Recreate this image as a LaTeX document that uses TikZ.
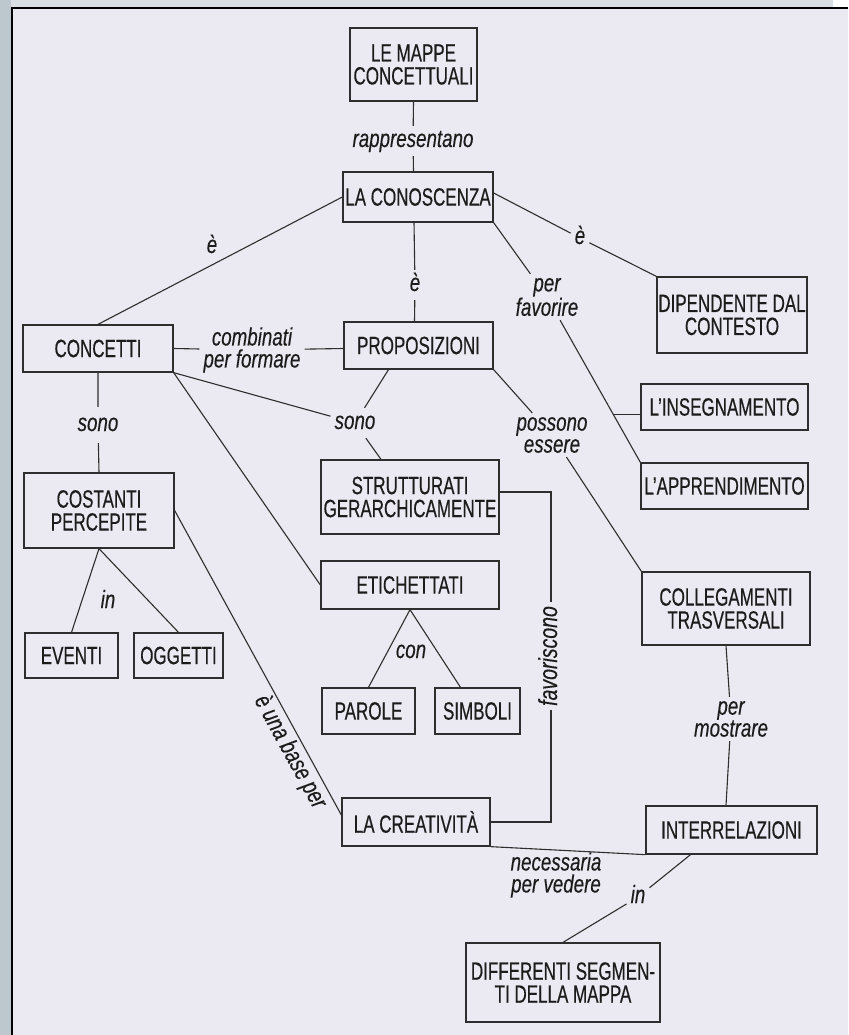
\documentclass[tikz,border=0pt]{standalone}
\usepackage{fontspec}
\newfontfamily\boxfont{Liberation Sans}[FakeStretch=0.68, FakeBold=0.4]
\newfontfamily\labfont{Liberation Sans}[FakeStretch=0.75, FakeBold=0.3]
\definecolor{ink}{HTML}{2E2E2E}
\definecolor{txt}{HTML}{1C1C1C}
\definecolor{page}{HTML}{EBEAF2}
\definecolor{bar}{HTML}{BCC7CE}
\definecolor{strip}{HTML}{D8DEE3}
\begin{document}
\begin{tikzpicture}[x=1pt,y=-1pt,
  box/.style={draw=ink, line width=1.3pt, inner sep=0pt, align=center, text=txt,
    font=\boxfont\fontsize{25}{23}\selectfont},
  lab/.style={inner sep=4pt, text=txt, text height=17pt, text depth=5pt,
    font=\labfont\itshape\fontsize{25}{22}\selectfont},
  labtwo/.style={inner sep=4pt, align=center, text=txt,
    font=\labfont\itshape\fontsize{25}{22}\selectfont},
  link/.style={draw=ink, line width=1.1pt}]
\useasboundingbox (0,0) rectangle (848,1035);

% page, margin bar and edges
\fill[page] (0,0) rectangle (848,1035);
\fill[bar] (0,0) rectangle (11,1035);
\fill[strip] (11,0) rectangle (833,7);
\fill[white] (833,0) rectangle (848,7);
\draw[black, line width=2pt] (12,1035) -- (12,8) -- (848,8);

% concept boxes
\node[box, minimum width=127pt, minimum height=73pt] (mappe) at (413.5,64.5) {LE MAPPE\\CONCETTUALI};
\node[box, minimum width=150pt, minimum height=50pt] (conosc) at (418,197) {LA CONOSCENZA};
\node[box, minimum width=150pt, minimum height=76pt] (dipend) at (732,315) {DIPENDENTE DAL\\CONTESTO};
\node[box, minimum width=150pt, minimum height=47pt] (concetti) at (98,348.5) {CONCETTI};
\node[box, minimum width=149pt, minimum height=47pt] (propos) at (418.5,345.5) {PROPOSIZIONI};
\node[box, minimum width=167pt, minimum height=46pt] (insegn) at (724.5,407) {L’INSEGNAMENTO};
\node[box, minimum width=167pt, minimum height=46pt] (apprend) at (724.5,486) {L’APPRENDIMENTO};
\node[box, minimum width=150pt, minimum height=75pt] (costanti) at (99,510.5) {COSTANTI\\PERCEPITE};
\node[box, minimum width=178pt, minimum height=74pt] (strutt) at (410,497) {STRUTTURATI\\GERARCHICAMENTE};
\node[box, minimum width=178pt, minimum height=48pt] (etich) at (410,585) {ETICHETTATI};
\node[box, minimum width=168pt, minimum height=73pt] (colleg) at (726,608.5) {COLLEGAMENTI\\TRASVERSALI};
\node[box, minimum width=93pt, minimum height=45pt] (eventi) at (71.5,655.5) {EVENTI};
\node[box, minimum width=89pt, minimum height=45pt] (oggetti) at (178.5,655.5) {OGGETTI};
\node[box, minimum width=93pt, minimum height=46pt] (parole) at (368.5,711) {PAROLE};
\node[box, minimum width=85pt, minimum height=46pt] (simboli) at (477.5,711) {SIMBOLI};
\node[box, minimum width=148pt, minimum height=48pt] (creat) at (416,822) {LA CREATIVITÀ};
\node[box, minimum width=171pt, minimum height=48pt] (interr) at (731.5,830) {INTERRELAZIONI};
\node[box, minimum width=194pt, minimum height=79pt] (differ) at (563,982.5) {DIFFERENTI SEGMEN-\\TI DELLA MAPPA};

% link phrases
\node[lab] (rappr) at (413,141) {rappresentano};
\node[lab] (e1) at (212,247) {è};
\node[lab] (e2) at (415,285) {è};
\node[lab] (e3) at (580,238) {è};
\node[labtwo] (perfav) at (547,297) {per\\favorire};
\node[labtwo] (combin) at (252,350) {combinati\\per formare};
\node[lab, inner sep=7pt] (sono1) at (98,425) {sono};
\node[lab] (sono2) at (355,423) {sono};
\node[labtwo] (poss) at (552,435) {possono\\essere};
\node[lab, rotate=90, font=\labfont\itshape\fontsize{26}{22}\selectfont] (fav) at (551,656) {favoriscono};
\node[lab] (con) at (411,652) {con};
\node[lab] (in1) at (108,602) {in};
\node[labtwo] (permostr) at (731,719) {per\\mostrare};
\node[labtwo] (necess) at (556,875) {necessaria\\per vedere};
\node[lab] (in2) at (638,897) {in};

% connectors
\draw[link] (mappe.south) -- (rappr) -- (mappe.south |- conosc.north);
\draw[link] (conosc.west) -- (concetti.north);
\draw[link] ([xshift=-4pt]conosc.south) -- (e2) -- ([xshift=-4pt]propos.north);
\draw[link] (conosc.south east) -- (perfav) -- (apprend.north west);
\path (perfav) -- (apprend.north west) coordinate[pos=0.663] (j1);
\draw[link] (j1) -- (j1 -| insegn.west);
\draw[link] ([yshift=4pt]conosc.east) -- (e3) -- (dipend.north west);
\draw[link] (concetti.east) -- (combin) -- (concetti.east -| propos.west);
\draw[link] (concetti.south) -- (sono1) -- (costanti.north);
\draw[link] (concetti.south east) -- (sono2) -- ([xshift=-29pt]strutt.north);
\draw[link] ([xshift=-30pt]propos.south) -- (sono2);
\draw[link] (propos.south east) -- (poss) -- (colleg.north west);
\draw[link] ([yshift=5pt]strutt.east) -| (fav);
\draw[link] (fav) |- (creat.east);
\draw[link] (concetti.south east) -- (etich.west);
\draw[link] (etich.south) -- (parole.north);
\draw[link] (etich.south) -- ([xshift=-17pt]simboli.north);
\draw[link] (costanti.south) -- (eventi.north);
\draw[link] (costanti.south) -- (oggetti.north);
\draw[link] (costanti.east) -- node[lab, sloped, below, pos=0.77] (ebase) {è una base per} ([yshift=7pt]creat.west);
\draw[link] (colleg.south) -- (permostr) -- (colleg.south |- interr.north);
\draw[link] (creat.south east) -- (interr.south west);
\draw[link] ([xshift=-41pt]interr.south) -- (in2) -- (differ.north);
\end{tikzpicture}
\end{document}
